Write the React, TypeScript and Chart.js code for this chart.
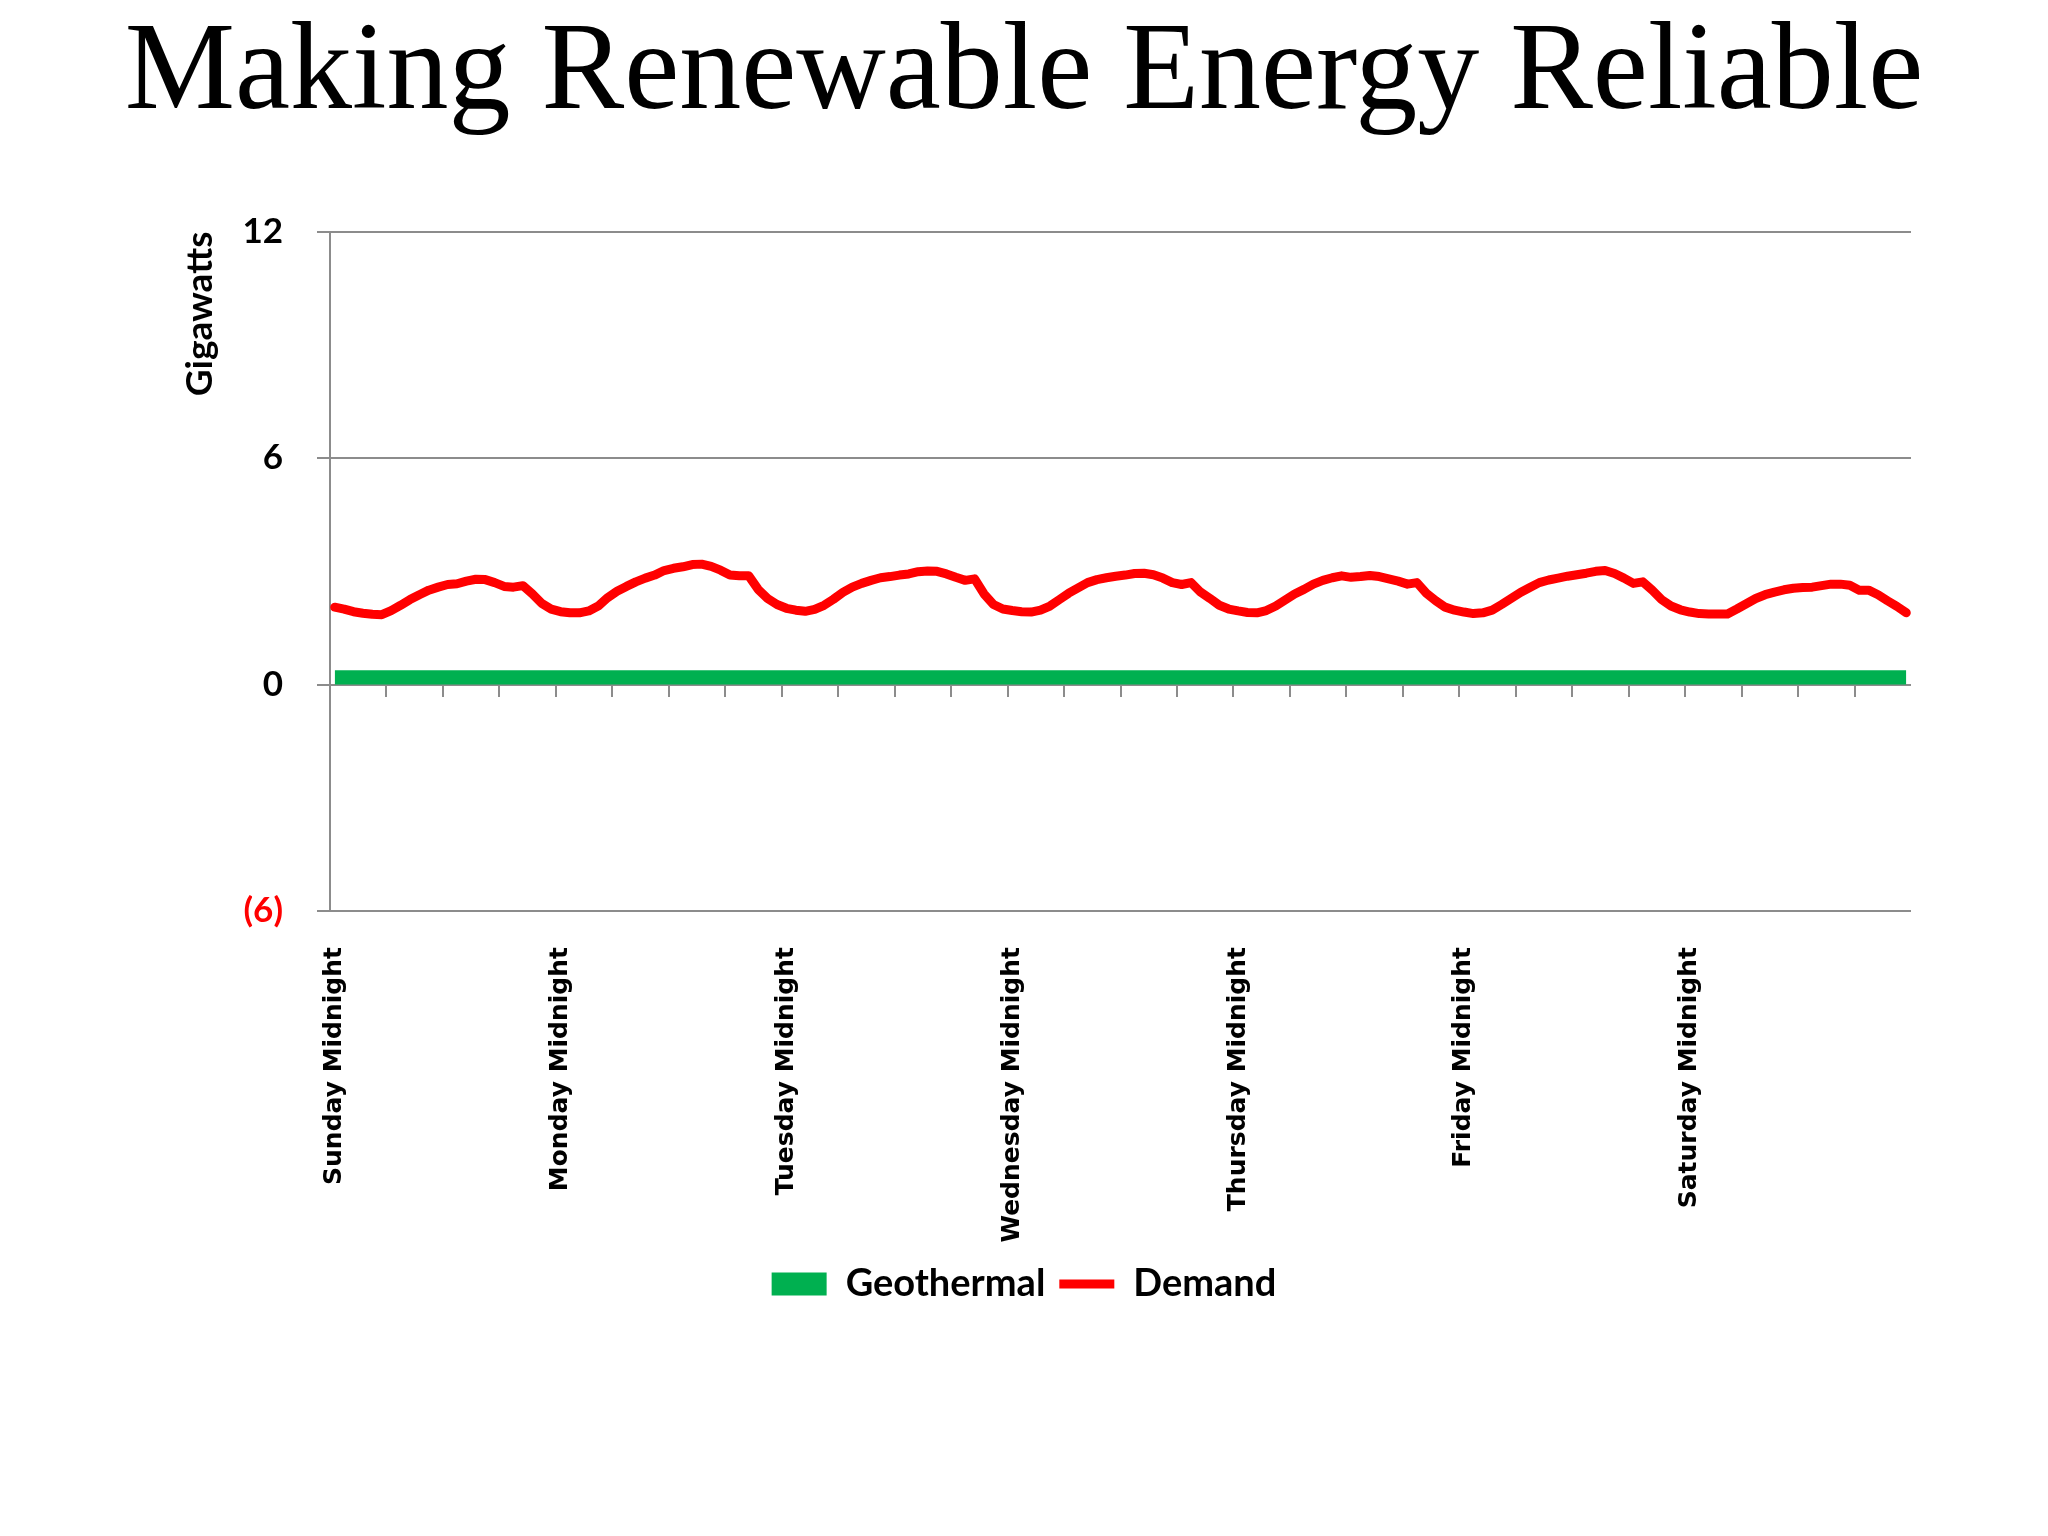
import React, { useEffect, useRef } from 'react';
import { Chart, registerables } from 'chart.js';

Chart.register(...registerables);

const TITLE = 'Making Renewable Energy Reliable';
const Y_TITLE = 'Gigawatts';
const SERIES_NAMES = ['Geothermal', 'Demand'];
const DAY_LABELS = [
  'Sunday Midnight',
  'Monday Midnight',
  'Tuesday Midnight',
  'Wednesday Midnight',
  'Thursday Midnight',
  'Friday Midnight',
  'Saturday Midnight',
];
const Y_MIN = -6;
const Y_MAX = 12;
const Y_STEP = 6;

// Hourly values (GW), one row per day
const GEOTHERMAL = [
  0.38, 0.38, 0.38, 0.38, 0.38, 0.38, 0.38, 0.38, 0.38, 0.38, 0.38, 0.38, 0.38, 0.38, 0.38, 0.38, 0.38, 0.38, 0.38, 0.38, 0.38, 0.38, 0.38, 0.38,
  0.38, 0.38, 0.38, 0.38, 0.38, 0.38, 0.38, 0.38, 0.38, 0.38, 0.38, 0.38, 0.38, 0.38, 0.38, 0.38, 0.38, 0.38, 0.38, 0.38, 0.38, 0.38, 0.38, 0.38,
  0.38, 0.38, 0.38, 0.38, 0.38, 0.38, 0.38, 0.38, 0.38, 0.38, 0.38, 0.38, 0.38, 0.38, 0.38, 0.38, 0.38, 0.38, 0.38, 0.38, 0.38, 0.38, 0.38, 0.38,
  0.38, 0.38, 0.38, 0.38, 0.38, 0.38, 0.38, 0.38, 0.38, 0.38, 0.38, 0.38, 0.38, 0.38, 0.38, 0.38, 0.38, 0.38, 0.38, 0.38, 0.38, 0.38, 0.38, 0.38,
  0.38, 0.38, 0.38, 0.38, 0.38, 0.38, 0.38, 0.38, 0.38, 0.38, 0.38, 0.38, 0.38, 0.38, 0.38, 0.38, 0.38, 0.38, 0.38, 0.38, 0.38, 0.38, 0.38, 0.38,
  0.38, 0.38, 0.38, 0.38, 0.38, 0.38, 0.38, 0.38, 0.38, 0.38, 0.38, 0.38, 0.38, 0.38, 0.38, 0.38, 0.38, 0.38, 0.38, 0.38, 0.38, 0.38, 0.38, 0.38,
  0.38, 0.38, 0.38, 0.38, 0.38, 0.38, 0.38, 0.38, 0.38, 0.38, 0.38, 0.38, 0.38, 0.38, 0.38, 0.38, 0.38, 0.38, 0.38, 0.38, 0.38, 0.38, 0.38, 0.38,
];

const DEMAND = [
  2.05, 2.0, 1.93, 1.89, 1.86, 1.85, 1.96, 2.1, 2.25, 2.38, 2.5, 2.58, 2.65, 2.67, 2.74, 2.79, 2.78, 2.7, 2.6, 2.58, 2.62, 2.4, 2.15, 2.0,
  1.93, 1.9, 1.9, 1.95, 2.08, 2.3, 2.47, 2.6, 2.72, 2.82, 2.9, 3.02, 3.08, 3.12, 3.18, 3.19, 3.13, 3.03, 2.9, 2.88, 2.88, 2.52, 2.28, 2.12,
  2.02, 1.97, 1.94, 1.99, 2.1, 2.26, 2.44, 2.58, 2.68, 2.76, 2.83, 2.86, 2.9, 2.93, 2.99, 3.01, 3.0, 2.93, 2.84, 2.76, 2.8, 2.4, 2.12, 2.0,
  1.96, 1.93, 1.92, 1.97, 2.08, 2.25, 2.42, 2.56, 2.7, 2.78, 2.83, 2.87, 2.9, 2.94, 2.95, 2.91, 2.82, 2.7, 2.65, 2.7, 2.45, 2.28, 2.1, 2.0,
  1.95, 1.91, 1.9, 1.96, 2.08, 2.24, 2.4, 2.52, 2.66, 2.76, 2.83, 2.88, 2.84, 2.86, 2.89, 2.86, 2.8, 2.74, 2.66, 2.7, 2.42, 2.22, 2.05, 1.97,
  1.92, 1.88, 1.9, 1.97, 2.12, 2.28, 2.44, 2.57, 2.7, 2.77, 2.82, 2.87, 2.91, 2.95, 3.0, 3.02, 2.94, 2.82, 2.68, 2.72, 2.5, 2.25, 2.08, 1.98,
  1.92, 1.88, 1.87, 1.87, 1.87, 2.0, 2.14, 2.28, 2.38, 2.45, 2.51, 2.55, 2.57, 2.58, 2.62, 2.66, 2.66, 2.63, 2.5, 2.5, 2.38, 2.22, 2.07, 1.9,
];

const HOURS_PER_DAY = 24;
const CATEGORIES = DEMAND.map((_, h) => (h % HOURS_PER_DAY === 0 ? DAY_LABELS[h / HOURS_PER_DAY] : ''));

const GRID = '#8C8C8C';

export default function App() {
  const ref = useRef<HTMLCanvasElement | null>(null);

  useEffect(() => {
    if (!ref.current) return;
    const chart = new Chart(ref.current, {
      type: 'line',
      data: {
        labels: CATEGORIES,
        datasets: [
          {
            label: SERIES_NAMES[0],
            data: GEOTHERMAL,
            borderWidth: 0,
            borderColor: '#00B050',
            backgroundColor: '#00B050',
            fill: 'origin',
            pointRadius: 0,
            pointStyle: 'rect',
            order: 1,
          },
          {
            label: SERIES_NAMES[1],
            data: DEMAND,
            borderColor: '#FF0000',
            backgroundColor: '#FF0000',
            borderWidth: 9,
            borderCapStyle: 'round',
            borderJoinStyle: 'round',
            fill: false,
            pointRadius: 0,
            pointStyle: 'line',
            tension: 0,
            order: 0,
          },
        ],
      },
      options: {
        animation: false,
        responsive: false,
        devicePixelRatio: 1,
        layout: { padding: { left: 0, right: 0, top: 0, bottom: 223 } },
        plugins: {
          title: {
            display: true,
            text: TITLE,
            color: '#000',
            font: { family: '"Liberation Serif", serif', size: 124, weight: 'normal', lineHeight: 1.15 },
            padding: { top: 4, bottom: 85 },
          },
          legend: {
            display: true,
            position: 'bottom',
            labels: {
              usePointStyle: true,
              pointStyleWidth: 55,
              boxHeight: 23,
              padding: 14,
              color: '#000',
              font: { family: 'Lato', size: 38, weight: 'bold' },
              sort: (a: any, b: any) => a.datasetIndex - b.datasetIndex,
            },
          },
          tooltip: { enabled: false },
        },
        scales: {
          x: {
            type: 'category',
            position: 'bottom',
            offset: true,
            grid: { display: false, drawTicks: false },
            border: { display: false },
            ticks: {
              autoSkip: false,
              maxRotation: 90,
              minRotation: 90,
              padding: 36,
              color: '#000',
              font: { family: '"DejaVu Sans"', size: 25, weight: 'bold' },
            },
            afterFit: (s: any) => {
              s.height = 340;
            },
          },
          x0: {
            type: 'category',
            position: { y: 0 },
            offset: true,
            ticks: { display: false },
            border: { display: false },
            grid: {
              offset: true,
              drawOnChartArea: false,
              drawTicks: true,
              tickLength: 12,
              lineWidth: 2,
              color: (ctx: any) => (ctx.index % 6 === 0 ? GRID : 'rgba(0,0,0,0)'),
            },
          },
          y: {
            type: 'linear',
            position: 'left',
            min: Y_MIN,
            max: Y_MAX,
            ticks: {
              stepSize: Y_STEP,
              padding: 34,
              font: { family: 'Lato', size: 35, weight: 'bold' },
              color: (ctx: any) => (ctx.tick && ctx.tick.value < 0 ? '#FF0000' : '#000000'),
              callback: (v: any) => (v < 0 ? `(${Math.abs(v)})` : String(v)),
            },
            grid: { color: GRID, lineWidth: 2, tickLength: 13 },
            border: { display: true, color: GRID, width: 2 },
            title: {
              display: true,
              text: Y_TITLE,
              align: 'end',
              color: '#000',
              font: { family: 'Lato', size: 37, weight: 'bold' },
              padding: { top: 178, bottom: 0 },
            },
            afterFit: (s: any) => {
              s.width = 330;
            },
          },
          yRight: {
            type: 'linear',
            position: 'right',
            display: true,
            ticks: { display: false },
            grid: { display: false, drawTicks: false },
            border: { display: false },
            afterFit: (s: any) => {
              s.width = 137;
            },
          },
        },
      } as any,
    });
    return () => chart.destroy();
  }, []);

  return (
    <div style={{ position: 'absolute', left: 0, top: 0, width: 2048, height: 1536, background: '#fff' }}>
      <canvas ref={ref} width={2048} height={1536} style={{ display: 'block', width: 2048, height: 1536 }} />
    </div>
  );
}
